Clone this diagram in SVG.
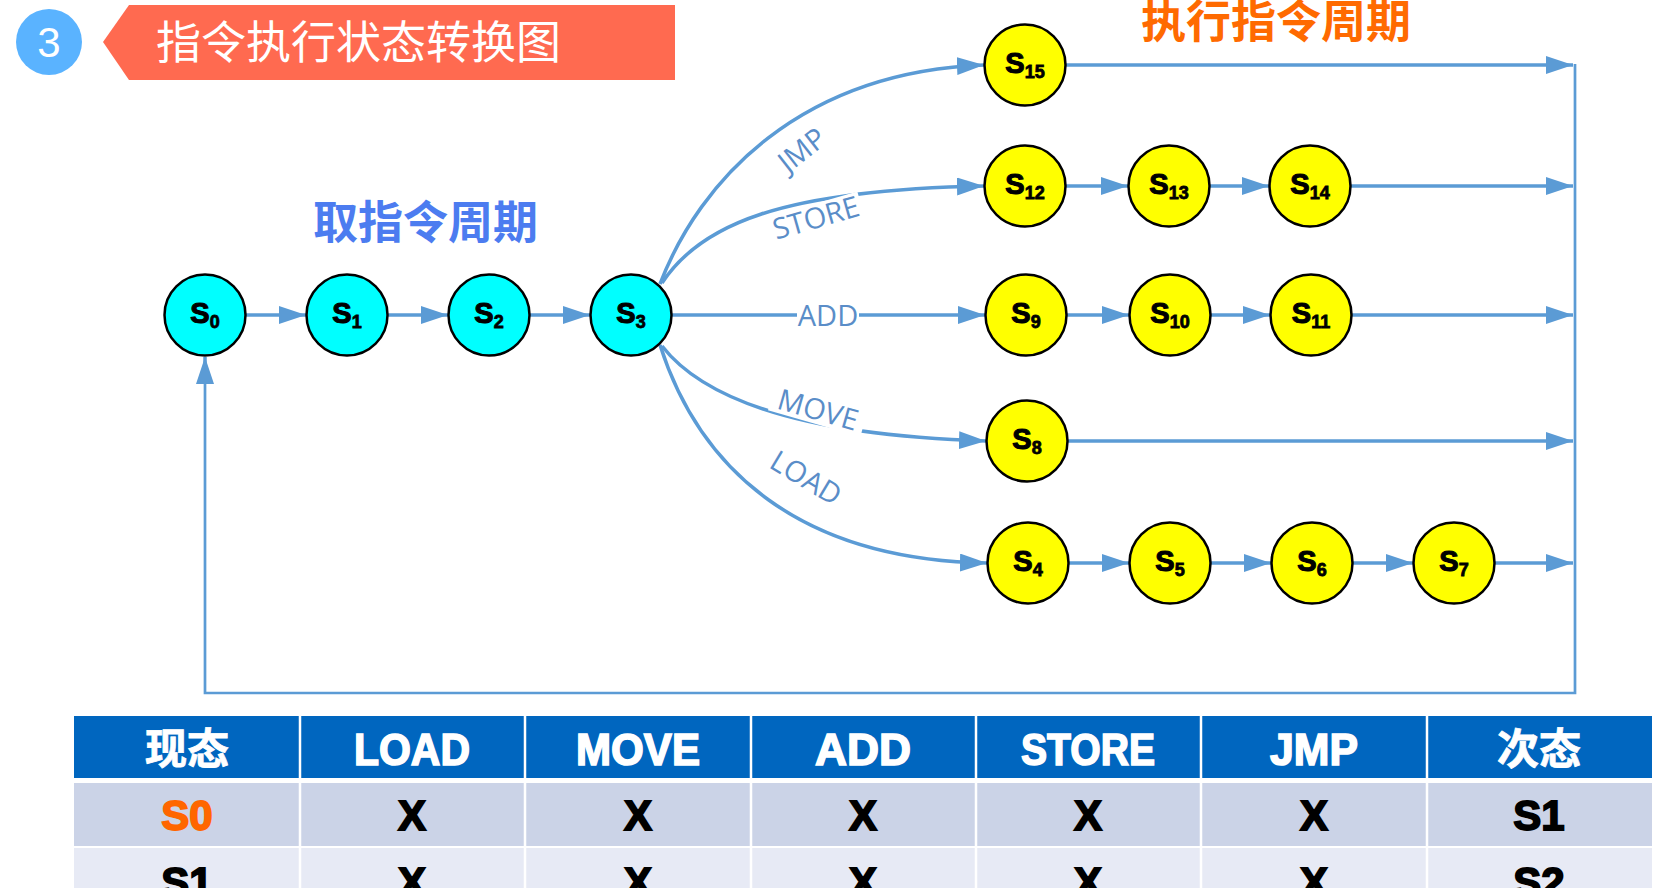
<svg xmlns="http://www.w3.org/2000/svg" width="1666" height="888" viewBox="0 0 1666 888">
<style>
.cn{font-family:"Noto Sans CJK SC","Noto Sans",sans-serif}
.conn{fill:none;stroke:#5B9BD5;stroke-width:3.5}
.loop{fill:none;stroke:#5B9BD5;stroke-width:2.7}
.cy{fill:#00FFFF;stroke:#000;stroke-width:2.5}
.ye{fill:#FFFF00;stroke:#000;stroke-width:2.5}
.nl{font-family:"Liberation Sans",Arial,sans-serif;font-weight:bold;font-size:29px;fill:#000;stroke:#000;stroke-width:1.1;text-anchor:middle}
.sub{font-size:18px;stroke-width:0.8}
.lbl{font-family:"Open Sans","Liberation Sans",sans-serif;font-size:29px;fill:#5A8DC8;text-anchor:middle}
.th{font-family:"Liberation Sans",Arial,sans-serif;font-weight:bold;font-size:44px;fill:#fff;stroke:#fff;stroke-width:1.6;text-anchor:middle}
.thc{font-family:"Noto Sans CJK SC",sans-serif;font-weight:bold;font-size:42px;fill:#fff;stroke:#fff;stroke-width:0.8;text-anchor:middle}
.td{font-family:"Liberation Sans",Arial,sans-serif;font-weight:bold;font-size:42px;fill:#000;stroke:#000;stroke-width:1.8;text-anchor:middle}
.or{fill:#FF6600;stroke:#FF6600}
</style>
<defs>
<marker id="ah" markerUnits="userSpaceOnUse" markerWidth="28" markerHeight="18" refX="27" refY="9" orient="auto" viewBox="0 0 28 18">
<path d="M0,0 L27,9 L0,18 z" fill="#5B9BD5"/>
</marker>
</defs>
<rect width="1666" height="888" fill="#fff"/>

<g id="title">
<circle cx="49" cy="42" r="33" fill="#5AB3FF"/>
<text x="49" y="57" font-family="Liberation Sans,Arial,sans-serif" font-size="42" fill="#fff" text-anchor="middle">3</text>
<polygon points="103,42 129,5 675,5 675,80 129,80" fill="#FF6A50"/>
<text x="156" y="59" class="cn" font-size="45" fill="#fff">指令执行状态转换图</text>
</g>
<text x="313" y="239" class="cn" font-size="45" font-weight="bold" fill="#4C7CF0">取指令周期</text>
<text x="1141" y="38" class="cn" font-size="45" font-weight="bold" fill="#FF6A00">执行指令周期</text>

<g id="connectors">
<line class="conn" x1="246" y1="315" x2="306" y2="315" marker-end="url(#ah)"/>
<line class="conn" x1="388" y1="315" x2="448" y2="315" marker-end="url(#ah)"/>
<line class="conn" x1="530" y1="315" x2="590" y2="315" marker-end="url(#ah)"/>
<path class="conn" d="M660,284 C700,180 800,72 984,65" marker-end="url(#ah)"/>
<path class="conn" d="M662,283 C700,225 780,190 984,186" marker-end="url(#ah)"/>
<line class="conn" x1="672" y1="315" x2="985" y2="315" marker-end="url(#ah)"/>
<path class="conn" d="M662,346 C700,395 790,435 986,441" marker-end="url(#ah)"/>
<path class="conn" d="M660,345 C700,470 800,560 987,563" marker-end="url(#ah)"/>
<line class="conn" x1="1066" y1="186" x2="1128" y2="186" marker-end="url(#ah)"/>
<line class="conn" x1="1210" y1="186" x2="1269" y2="186" marker-end="url(#ah)"/>
<line class="conn" x1="1067" y1="315" x2="1129" y2="315" marker-end="url(#ah)"/>
<line class="conn" x1="1211" y1="315" x2="1270" y2="315" marker-end="url(#ah)"/>
<line class="conn" x1="1069" y1="563" x2="1129" y2="563" marker-end="url(#ah)"/>
<line class="conn" x1="1211" y1="563" x2="1271" y2="563" marker-end="url(#ah)"/>
<line class="conn" x1="1353" y1="563" x2="1413" y2="563" marker-end="url(#ah)"/>
<line class="conn" x1="1066" y1="65" x2="1573" y2="65" marker-end="url(#ah)"/>
<line class="conn" x1="1351" y1="186" x2="1573" y2="186" marker-end="url(#ah)"/>
<line class="conn" x1="1352" y1="315" x2="1573" y2="315" marker-end="url(#ah)"/>
<line class="conn" x1="1068" y1="441" x2="1573" y2="441" marker-end="url(#ah)"/>
<line class="conn" x1="1495" y1="563" x2="1573" y2="563" marker-end="url(#ah)"/>
<polyline class="loop" points="1575,64 1575,693 205,693 205,372"/>
<line class="conn" x1="205" y1="380" x2="205" y2="357" marker-end="url(#ah)"/>
<g transform="translate(802,150) rotate(-38)"><text class="lbl" x="0" y="10">JMP</text></g>
<g transform="translate(816,218) rotate(-16)"><rect x="-47" y="-14" width="94" height="28" fill="#fff"/><text class="lbl" x="0" y="10">STORE</text></g>
<rect x="797" y="302" width="62" height="26" fill="#fff"/>
<text class="lbl" x="828" y="326">ADD</text>
<g transform="translate(818,410) rotate(16)"><rect x="-48" y="-14" width="96" height="28" fill="#fff"/><text class="lbl" x="0" y="10">MOVE</text></g>
<g transform="translate(806,478) rotate(31)"><text class="lbl" x="0" y="10">LOAD</text></g>
</g>

<g id="S0"><circle class="cy" cx="205" cy="315" r="40.5"/><text class="nl" x="205" y="323">S<tspan class="sub" dy="5">0</tspan></text></g>
<g id="S1"><circle class="cy" cx="347" cy="315" r="40.5"/><text class="nl" x="347" y="323">S<tspan class="sub" dy="5">1</tspan></text></g>
<g id="S2"><circle class="cy" cx="489" cy="315" r="40.5"/><text class="nl" x="489" y="323">S<tspan class="sub" dy="5">2</tspan></text></g>
<g id="S3"><circle class="cy" cx="631" cy="315" r="40.5"/><text class="nl" x="631" y="323">S<tspan class="sub" dy="5">3</tspan></text></g>
<g id="S15"><circle class="ye" cx="1025" cy="65" r="40.5"/><text class="nl" x="1025" y="73">S<tspan class="sub" dy="5">15</tspan></text></g>
<g id="S12"><circle class="ye" cx="1025" cy="186" r="40.5"/><text class="nl" x="1025" y="194">S<tspan class="sub" dy="5">12</tspan></text></g>
<g id="S13"><circle class="ye" cx="1169" cy="186" r="40.5"/><text class="nl" x="1169" y="194">S<tspan class="sub" dy="5">13</tspan></text></g>
<g id="S14"><circle class="ye" cx="1310" cy="186" r="40.5"/><text class="nl" x="1310" y="194">S<tspan class="sub" dy="5">14</tspan></text></g>
<g id="S9"><circle class="ye" cx="1026" cy="315" r="40.5"/><text class="nl" x="1026" y="323">S<tspan class="sub" dy="5">9</tspan></text></g>
<g id="S10"><circle class="ye" cx="1170" cy="315" r="40.5"/><text class="nl" x="1170" y="323">S<tspan class="sub" dy="5">10</tspan></text></g>
<g id="S11"><circle class="ye" cx="1311" cy="315" r="40.5"/><text class="nl" x="1311" y="323">S<tspan class="sub" dy="5">11</tspan></text></g>
<g id="S8"><circle class="ye" cx="1027" cy="441" r="40.5"/><text class="nl" x="1027" y="449">S<tspan class="sub" dy="5">8</tspan></text></g>
<g id="S4"><circle class="ye" cx="1028" cy="563" r="40.5"/><text class="nl" x="1028" y="571">S<tspan class="sub" dy="5">4</tspan></text></g>
<g id="S5"><circle class="ye" cx="1170" cy="563" r="40.5"/><text class="nl" x="1170" y="571">S<tspan class="sub" dy="5">5</tspan></text></g>
<g id="S6"><circle class="ye" cx="1312" cy="563" r="40.5"/><text class="nl" x="1312" y="571">S<tspan class="sub" dy="5">6</tspan></text></g>
<g id="S7"><circle class="ye" cx="1454" cy="563" r="40.5"/><text class="nl" x="1454" y="571">S<tspan class="sub" dy="5">7</tspan></text></g>

<g id="table">
<rect x="74" y="716" width="1578" height="62" fill="#0066BF"/>
<rect x="74" y="783" width="1578" height="63" fill="#CBD3E7"/>
<rect x="74" y="848" width="1578" height="40" fill="#E7EAF5"/>
<g stroke="#fff" stroke-width="2.5">
<line x1="300" y1="716" x2="300" y2="888"/>
<line x1="525" y1="716" x2="525" y2="888"/>
<line x1="751" y1="716" x2="751" y2="888"/>
<line x1="976" y1="716" x2="976" y2="888"/>
<line x1="1201" y1="716" x2="1201" y2="888"/>
<line x1="1427" y1="716" x2="1427" y2="888"/>
</g>
<text class="thc" x="187" y="764">现态</text>
<text class="th" x="412" y="765" textLength="116" lengthAdjust="spacingAndGlyphs">LOAD</text>
<text class="th" x="638" y="765" textLength="124" lengthAdjust="spacingAndGlyphs">MOVE</text>
<text class="th" x="863" y="765" textLength="96" lengthAdjust="spacingAndGlyphs">ADD</text>
<text class="th" x="1088" y="765" textLength="134" lengthAdjust="spacingAndGlyphs">STORE</text>
<text class="th" x="1314" y="765" textLength="88" lengthAdjust="spacingAndGlyphs">JMP</text>
<text class="thc" x="1539" y="764">次态</text>
<text class="td or" x="187" y="830">S0</text>
<text class="td" x="412" y="830">X</text>
<text class="td" x="638" y="830">X</text>
<text class="td" x="863" y="830">X</text>
<text class="td" x="1088" y="830">X</text>
<text class="td" x="1314" y="830">X</text>
<text class="td" x="1539" y="830">S1</text>
<text class="td" x="187" y="897">S1</text>
<text class="td" x="412" y="897">X</text>
<text class="td" x="638" y="897">X</text>
<text class="td" x="863" y="897">X</text>
<text class="td" x="1088" y="897">X</text>
<text class="td" x="1314" y="897">X</text>
<text class="td" x="1539" y="897">S2</text>
</g>
</svg>
